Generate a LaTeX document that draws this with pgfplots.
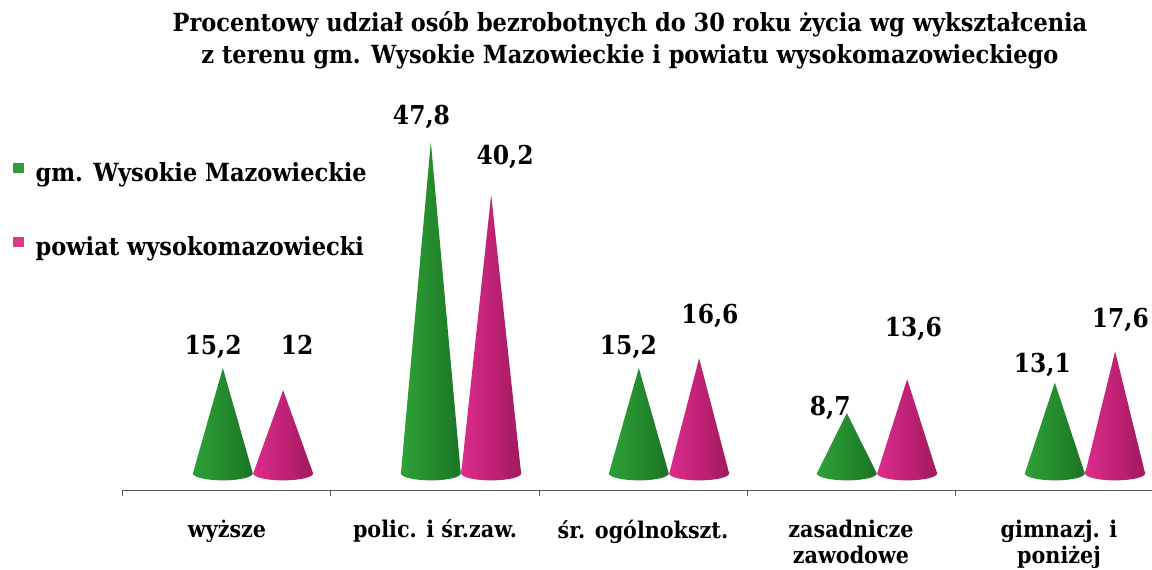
\documentclass[border=0pt]{standalone}
\usepackage{fontspec}
\IfFontExistsTF{DejaVu Serif Condensed}
  {\newfontfamily\tnr{DejaVu Serif Condensed}}
  {\newfontfamily\tnr{DejaVu Serif}[FakeStretch=0.85]}
\usepackage{pgfplots}
\pgfplotsset{compat=1.18}
\definecolor{gG}{HTML}{2FA238}
\definecolor{gGd}{HTML}{1B7424}
\definecolor{gGl}{HTML}{5DC55C}
\definecolor{pM}{HTML}{DC2C8C}
\definecolor{pMd}{HTML}{A3195F}
\definecolor{pMl}{HTML}{F060AC}
\definecolor{gLeg}{HTML}{2E9A3A}
\definecolor{pLeg}{HTML}{DA3A8E}
% one cone: centre x, value, colour name
\newcommand\cone[3]{%
  \pgfmathsetmacro\cL{#1-0.144}%
  \pgfmathsetmacro\cR{#1+0.144}%
  \edef\tmp{\noexpand\addplot[forget plot, draw=none, left color=#3, middle color=#3l, right color=#3d]
    coordinates {(\cL,0) (#1,#2) (\cR,0)}}%
  \tmp arc[start angle=0, end angle=-180, x radius=15pt, y radius=3.5pt] -- cycle;%
}
\begin{document}
\begin{tikzpicture}[x=1pt,y=1pt,font=\tnr\bfseries]
\path[use as bounding box] (0,0) rectangle (576,284.5);
\begin{axis}[
  at={(61.5pt,39.5pt)}, anchor=south west,
  scale only axis, width=514.8pt, height=216.2pt,
  xmin=-0.5, xmax=4.45, ymin=-2.4, ymax=60,
  axis x line=bottom, axis y line=none,
  x axis line style={-, draw=gray!70!black, line width=0.5pt},
  xtick={0,1,2,3,4},
  xticklabels={wyższe, {polic. i śr.zaw.}, {śr. ogólnokszt.}, {zasadnicze\\zawodowe}, {gimnazj. i\\poniżej}},
  major tick length=0pt,
  minor xtick={-0.5,0.5,1.5,2.5,3.5},
  minor tick length=3pt, tick align=outside,
  minor tick style={draw=gray!70!black, line width=0.5pt},
  xticklabel style={align=center, font=\tnr\fontsize{11.5}{13}\selectfont\bfseries, yshift=-11.5pt},
  clip=false,
  title={Procentowy udział osób bezrobotnych do 30 roku życia wg wykształcenia\\z terenu gm. Wysokie Mazowieckie i powiatu wysokomazowieckiego},
  title style={align=center, font=\tnr\fontsize{12.5}{16}\selectfont\bfseries, at={(0.4924,0.944)}, anchor=south, inner sep=0pt},
  legend style={at={(-0.107,0.768)}, anchor=north west, draw=none, fill=none,
    font=\tnr\fontsize{12.5}{16}\selectfont\bfseries, row sep=22pt, inner sep=0pt,
    /tikz/every odd column/.append style={column sep=4pt}},
  legend cell align=left,
  legend image code/.code={\fill[#1] (0pt,0pt) rectangle (5.2pt,5.2pt);},
]
\addlegendimage{fill=gLeg, draw=none}
\addlegendentry{gm. Wysokie Mazowieckie}
\addlegendimage{fill=pLeg, draw=none}
\addlegendentry{powiat wysokomazowiecki}
% gm. Wysokie Mazowieckie (green) and powiat (magenta)
\cone{-0.02}{15.2}{gG}
\cone{0.27}{12}{pM}
\cone{0.98}{47.8}{gG}
\cone{1.27}{40.2}{pM}
\cone{1.98}{15.2}{gG}
\cone{2.27}{16.6}{pM}
\cone{2.98}{8.7}{gG}
\cone{3.27}{13.6}{pM}
\cone{3.98}{13.1}{gG}
\cone{4.27}{17.6}{pM}
% value labels
\addplot[forget plot, draw=none, mark=none, point meta=explicit symbolic, nodes near coords,
  every node near coord/.append style={anchor=base, inner sep=0pt, font=\tnr\fontsize{13}{13}\selectfont\bfseries, text=black}]
  coordinates {(-0.067,17.1) [{15,2}] (0.337,17.1) [{12}]
               (0.935,50.3) [{47,8}] (1.337,44.5) [{40,2}]
               (1.93,17.1) [{15,2}] (2.322,21.6) [{16,6}]
               (2.9,8.3) [{8,7}] (3.3,19.8) [{13,6}]
               (3.92,14.6) [{13,1}] (4.295,21.1) [{17,6}]};
\end{axis}
\end{tikzpicture}
\end{document}
